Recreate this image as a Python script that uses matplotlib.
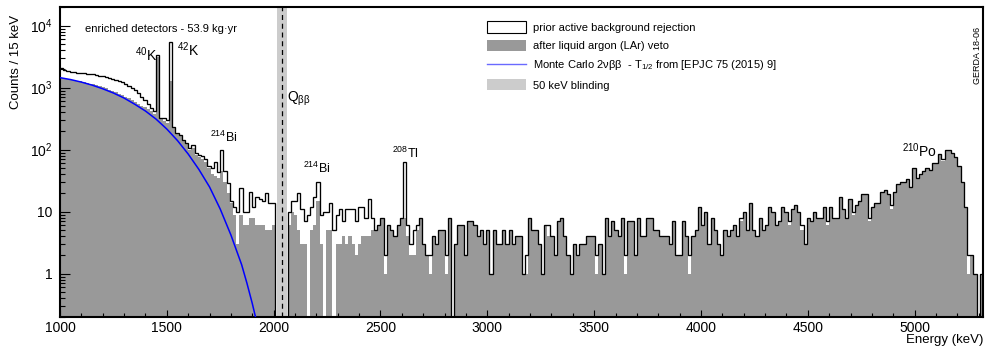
import numpy as np
import matplotlib
matplotlib.use('Agg')
import matplotlib.pyplot as plt
from matplotlib.patches import Patch
from matplotlib.lines import Line2D
from matplotlib.ticker import FixedLocator, FixedFormatter, LogLocator, NullFormatter, MultipleLocator

plt.rcParams['font.family'] = ['Liberation Sans', 'DejaVu Sans']
plt.rcParams['mathtext.fontset'] = 'custom'
plt.rcParams['mathtext.rm'] = 'Liberation Sans'
plt.rcParams['mathtext.it'] = 'Liberation Sans:italic'
plt.rcParams['mathtext.bf'] = 'Liberation Sans:bold'

# ---------------- data ----------------
BIN_LO = 1000   # keV
BIN_W = 15      # keV per bin

# counts / 15 keV, prior active background rejection (288 bins, 1000-5320 keV)
prior = (
    [2050, 1900, 1840, 1800, 1760, 1740, 1720, 1700, 1680, 1660,
     1640, 1600, 1570, 1520, 1470, 1420, 1370, 1330, 1280, 1220,
     1140, 1060, 1000, 920, 820, 720, 640, 540, 470, 420,
     3400, 330, 320, 300, 5400, 230, 187, 175, 145, 130,
     107, 120, 88, 82, 78, 70, 54]
    + [50, 64, 44, 100, 45, 29, 15, 12, 10, 24, 10, 10, 21, 12, 17, 16, 15, 20, 14, 14]
    + [0, 0, 0, 0]
    + [10, 15, 15, 20, 11, 7, 9, 12, 17, 30, 9, 10, 10, 14, 5, 9, 11, 7, 11, 11, 11, 7, 12]
    + [12, 8, 16, 8, 5, 6, 8, 2, 6, 5, 4, 6, 8, 64, 6, 3, 5, 6, 8, 3,
       2, 2, 4, 3, 5, 5, 2, 8, 0, 3, 6, 6, 2, 7, 7, 6, 4, 5, 3, 5,
       1, 5, 3, 3, 5, 3, 5]
    + [3, 4, 4, 1, 2, 8, 5, 5, 3, 1, 6, 6, 4, 2, 7, 8, 4, 2, 1, 3,
       2, 3, 3, 4, 4, 4, 2, 3, 1, 8, 4, 7, 5, 4, 8, 2, 7, 7, 2, 8,
       4, 4, 8, 8, 5, 5, 4, 4]
    + [4, 3, 7, 2, 2, 7, 4, 2, 4, 5, 12, 6, 10, 3, 8, 5, 3, 2, 5, 4,
       5, 6, 4, 8, 10, 5, 14, 5, 4, 8, 5, 6, 12, 10, 6, 7, 12, 10, 7, 11,
       13, 10, 6, 3, 8, 7, 10, 8]
    + [8, 12, 7, 12, 8, 8, 17, 11, 8, 16, 10, 13, 15, 19, 19, 8, 12, 14, 14, 21,
       22, 19, 13, 21, 28, 30, 30, 34, 25, 50, 35, 40, 46, 50, 47, 61, 62, 85, 70, 97,
       97, 88, 75, 55, 30, 12, 2, 2, 1, 0, 1]
)

# counts / 15 keV after liquid argon veto
lar = (
    [1420, 1400, 1370, 1345, 1320, 1290, 1260, 1230, 1195, 1160,
     1135, 1095, 1050, 1010, 970, 925, 885, 840, 795, 755,
     715, 675, 630, 590, 555, 515, 480, 445, 415, 380,
     3100, 315, 295, 265, 1300, 220, 180, 165, 140, 125,
     100, 105, 82, 76, 70, 63, 50]
    + [40, 38, 35, 45, 30, 20, 14, 9, 3, 9, 6, 6, 8, 8, 6, 6, 6, 5, 5, 6]
    + [0, 0, 0, 0]
    + [6, 10, 9, 5, 3, 3, 0, 5, 6, 15, 3, 0, 5, 5, 0, 3, 3, 4, 3, 4, 3, 2, 3]
    + [4, 4, 4, 5, 5, 6, 8, 1, 6, 5, 4, 6, 8, 8, 4, 2, 2, 5, 8, 3,
       2, 1, 4, 3, 5, 5, 1, 8, 0, 3, 6, 6, 2, 7, 7, 6, 4, 5, 3, 5,
       1, 5, 3, 3, 5, 3, 5]
    + [3, 4, 4, 1, 1, 8, 5, 5, 3, 1, 6, 4, 4, 2, 7, 8, 4, 2, 1, 3,
       2, 3, 3, 4, 4, 4, 1, 3, 1, 8, 4, 7, 5, 4, 8, 1, 7, 7, 2, 8,
       4, 4, 8, 8, 5, 5, 4, 4]
    + [4, 3, 7, 2, 2, 7, 4, 1, 4, 5, 12, 6, 10, 3, 8, 5, 3, 2, 5, 4,
       5, 6, 4, 7, 10, 5, 14, 5, 4, 8, 5, 6, 12, 10, 6, 7, 12, 10, 6, 11,
       13, 10, 5, 3, 8, 7, 10, 8]
    + [8, 12, 6, 12, 8, 8, 17, 11, 8, 16, 9, 13, 15, 19, 19, 7, 12, 14, 14, 21,
       22, 19, 11, 21, 28, 30, 30, 34, 25, 50, 35, 40, 46, 50, 47, 61, 62, 85, 65, 97,
       97, 88, 75, 55, 30, 12, 1, 2, 1, 0, 1]
)

# Monte Carlo 2nu-beta-beta expectation (counts / 15 keV)
mc_energy = [1000, 1050, 1100, 1150, 1200, 1250, 1300, 1350, 1400, 1450, 1500,
             1550, 1600, 1650, 1700, 1750, 1800, 1850, 1875, 1900, 1915, 1925]
mc_counts = [1450, 1350, 1230, 1100, 960, 820, 680, 540, 420, 310, 215,
             140, 85, 48, 25, 11, 4.2, 1.4, 0.7, 0.33, 0.2, 0.15]

blind_lo, blind_hi = 2014, 2064
q_bb = 2039

xticks = [1000, 1500, 2000, 2500, 3000, 3500, 4000, 4500, 5000]
yticks = [1, 10, 100, 1000, 10000]
ytick_labels = ['1', '10', '$10^{2}$', '$10^{3}$', '$10^{4}$']

# ---------------- figure ----------------
W, H = 985, 348
fig = plt.figure(figsize=(W / 100, H / 100), dpi=100)
ax = fig.add_axes([60 / W, 1 - 317 / H, (983 - 60) / W, (317 - 7) / H])

GREY = '#999999'
LIGHT = '#cccccc'
BLUE = '#0000ff'

edges = BIN_LO + BIN_W * np.arange(len(prior) + 1)
floor = 1e-3
P = np.where(np.array(prior, float) > 0, prior, floor)
L = np.where(np.array(lar, float) > 0, lar, floor)

ax.stairs(L, edges, fill=True, baseline=floor, color=GREY, lw=0, zorder=1)
ax.axvspan(blind_lo, blind_hi, color=LIGHT, lw=0, zorder=2)
ax.stairs(P, edges, baseline=None, color='black', lw=0.95, zorder=3)
ax.plot(mc_energy, mc_counts, color=BLUE, lw=1.1, zorder=4)
ax.axvline(q_bb, color='black', lw=0.9, ls=(0, (4, 3)), zorder=5)

ax.set_yscale('log')
ax.set_xlim(1000, 5320)
ax.set_ylim(0.2, 2e4)

ax.xaxis.set_major_locator(FixedLocator(xticks))
ax.xaxis.set_minor_locator(MultipleLocator(100))
ax.yaxis.set_major_locator(FixedLocator(yticks))
ax.yaxis.set_major_formatter(FixedFormatter(ytick_labels))
ax.yaxis.set_minor_locator(LogLocator(base=10, subs=np.arange(2, 10)))
ax.yaxis.set_minor_formatter(NullFormatter())

ax.tick_params(which='both', direction='in', top=False, right=False, width=0.8)
ax.tick_params(axis='y', which='major', length=7.2, pad=5.5, labelsize=10)
ax.tick_params(axis='y', which='minor', length=3.6)
ax.tick_params(axis='x', which='major', length=5, pad=3, labelsize=10)
ax.tick_params(axis='x', which='minor', length=2.9)
for s in ax.spines.values():
    s.set_linewidth(1.5)


def px(x, y):
    return x / W, 1 - y / H


fig.text(*px(16, 62), 'Counts / 15 keV', rotation=90, ha='center', va='center', fontsize=9.5)
fig.text(*px(983, 340), 'Energy (keV)', ha='right', va='center', fontsize=9.5)
fig.text(*px(978, 55), 'GERDA 18-06', rotation=90, ha='center', va='center', fontsize=6.5)
fig.text(*px(85, 32), 'enriched detectors - 53.9 kg·yr', ha='left', va='baseline', fontsize=8)

labels = [
    (135, 61, '$^{40}$K', 10),
    (177, 56, '$^{42}$K', 10),
    (210, 142, '$^{214}$Bi', 9),
    (287, 102, r'Q$_{\mathrm{ββ}}$', 10),
    (303, 173, '$^{214}$Bi', 9),
    (392, 158, '$^{208}$Tl', 9),
    (902, 157, '$^{210}$Po', 10),
]
for x, y, t, fs in labels:
    fig.text(*px(x, y), t, ha='left', va='baseline', fontsize=fs)

handles = [
    Patch(facecolor='white', edgecolor='black', lw=0.8),
    Patch(facecolor=GREY, edgecolor='none'),
    Line2D([], [], color='#6a6aff', lw=1.0),
    Patch(facecolor=LIGHT, edgecolor='none'),
]
names = [
    'prior active background rejection',
    'after liquid argon (LAr) veto',
    'Monte Carlo 2νββ  - T$_{1/2}$ from [EPJC 75 (2015) 9]',
    '50 keV blinding',
]
ax.legend(handles, names, loc='upper left', bbox_to_anchor=px(487, 21.5),
          bbox_transform=fig.transFigure, frameon=False, fontsize=8,
          borderpad=0, borderaxespad=0, handlelength=3.5, handleheight=1.17,
          handletextpad=0.6, labelspacing=0.63)

fig.savefig('out.png', dpi=100)
